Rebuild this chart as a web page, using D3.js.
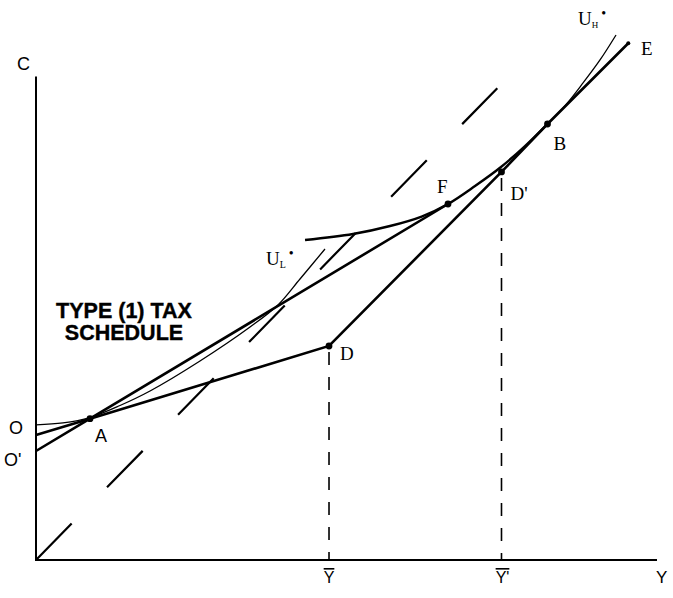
<!DOCTYPE html>
<html><head><meta charset="utf-8">
<script src="https://cdn.jsdelivr.net/npm/d3@7"></script>
<style>
html,body{margin:0;padding:0;background:#fff;}
svg{display:block;}
.sans{font-family:"Liberation Sans",Arial,sans-serif;}
.serif{font-family:"Liberation Serif","Times New Roman",serif;}
</style></head>
<body>
<svg id="chart" width="673" height="598"></svg>
<script>
// ---- data (Y = income on horizontal axis, C = consumption on vertical axis) ----
const axisMax = [100, 78];                       // Y max, C max
const scheduleOD_E = [[0,20.16],[8.71,22.8],[47.26,34.52],[75.08,62.6],[82.5,70.32],[95.53,83.34]]; // O-A-D-D'-B-E
const lineOprimeF = [[0,17.58],[8.71,22.8],[66.45,57.42]];   // O'-A-F
const line45 = [[0,0],[74.4,76.1]];
const uLstar = [[0,21.8],[4.35,22.1],[8.71,22.98],[13.55,24.92],[18.39,27.26],[26.45,32.1],[34.52,37.58],[39.03,41.13],[42.58,45.32],[46.61,50.16]];
const uHstarThick = [[43.39,51.61],[51.13,52.58],[57.1,53.87],[62.2,55.4],[66.45,57.42],[70.81,60.32],[75.0,63.39],[78.87,66.77],[82.5,70.32]];
const uHstarThin = [[82.5,70.32],[85.48,73.45],[88.23,76.94],[90.97,80.65],[93.55,84.68]];
const pointNames = ["A","D","D'","F","B"];
const pointX = [8.71,47.26,75.08,66.45,82.5];
const pointY = [22.8,34.52,62.6,57.42,70.32];
const xTickLabels = ["Y","Y'"];
const xTickValues = [47.26,75.08];

const svg = d3.select("#chart");
const x = d3.scaleLinear().domain([0, axisMax[0]]).range([36, 656]);
const y = d3.scaleLinear().domain([0, axisMax[1]]).range([560, 76.4]);
const line = d3.line().x(d=>x(d[0])).y(d=>y(d[1]));
const curve = d3.line().x(d=>x(d[0])).y(d=>y(d[1])).curve(d3.curveCatmullRom.alpha(0.5));

// axes
svg.append("line").attr("x1",x(0)).attr("x2",x(0)).attr("y1",y(0)+1).attr("y2",y(axisMax[1]))
  .attr("stroke","#000").attr("stroke-width",2);
svg.append("line").attr("x1",x(0)-1).attr("x2",x(axisMax[0])+1).attr("y1",y(0)).attr("y2",y(0))
  .attr("stroke","#000").attr("stroke-width",2);

// 45 degree dashed line
svg.append("path").attr("d",line(line45)).attr("fill","none").attr("stroke","#000")
  .attr("stroke-width",2.2).attr("stroke-dasharray","51,50.6");

// vertical dashed drop lines
xTickValues.forEach((v,i)=>{
  const top = i===0 ? pointY[1] : pointY[2];
  svg.append("line").attr("x1",x(v)).attr("x2",x(v)).attr("y1",y(top)+6).attr("y2",y(0))
    .attr("stroke","#000").attr("stroke-width",1.6).attr("stroke-dasharray","13,12");
});

// tax schedule lines
svg.append("path").attr("d",line(scheduleOD_E)).attr("fill","none").attr("stroke","#000").attr("stroke-width",2.6);
svg.append("path").attr("d",line(lineOprimeF)).attr("fill","none").attr("stroke","#000").attr("stroke-width",2.6);

// indifference curves
svg.append("path").attr("d",curve(uLstar)).attr("fill","none").attr("stroke","#000").attr("stroke-width",1.3);
svg.append("path").attr("d",curve(uHstarThick)).attr("fill","none").attr("stroke","#000").attr("stroke-width",2.4);
svg.append("path").attr("d",curve(uHstarThin)).attr("fill","none").attr("stroke","#000").attr("stroke-width",1.3);

// points
pointNames.forEach((n,i)=>{
  svg.append("circle").attr("cx",x(pointX[i])).attr("cy",y(pointY[i])).attr("r",3.4).attr("fill","#000");
});
const last = scheduleOD_E[scheduleOD_E.length-1];
svg.append("circle").attr("cx",x(last[0])).attr("cy",y(last[1])).attr("r",2).attr("fill","#000");

// labels
function lab(t,px,py,cls,size,anchor){
  return svg.append("text").attr("x",px).attr("y",py).attr("class",cls).attr("font-size",size)
    .attr("text-anchor",anchor||"start").text(t);
}
lab("C",17,70,"sans",18);
lab("O",9,434,"sans",18);
lab("O'",4,466,"sans",18);
lab("A",95,442,"sans",18);
lab("D",x(pointX[1])+11,y(pointY[1])+14,"serif",19);
lab("D'",x(pointX[2])+9,y(pointY[2])+28,"serif",19);
lab("F",x(pointX[3])-11,y(pointY[3])-11,"serif",19);
lab("B",x(pointX[4])+6,y(pointY[4])+26,"serif",19);
lab("E",641,55,"serif",19);
lab("Y",656,583,"sans",17);

// tick labels with overbar
xTickLabels.forEach((t,i)=>{
  svg.append("text").attr("x",x(xTickValues[i]) + (i===0?0:1)).attr("y",583)
    .attr("class","sans").attr("font-size",16).attr("text-anchor","middle")
    .style("text-decoration","overline").text(t);
});

// U_H* and U_L* labels
const uh = svg.append("text").attr("x",578).attr("y",25).attr("class","serif").attr("font-size",19);
uh.append("tspan").text("U");
uh.append("tspan").attr("font-size",9).attr("dy",3).text("H");
uh.append("tspan").attr("font-size",14).attr("dy",-10).attr("dx",3).text("•");
const ul = svg.append("text").attr("x",266).attr("y",265).attr("class","serif").attr("font-size",19);
ul.append("tspan").text("U");
ul.append("tspan").attr("font-size",10).attr("dy",3).text("L");
ul.append("tspan").attr("font-size",14).attr("dy",-10).attr("dx",3).text("•");

// type (1) tax schedule label
const t1 = svg.append("text").attr("class","sans").attr("font-weight","bold").attr("font-size",21.5)
  .attr("text-anchor","middle").attr("stroke","#000").attr("stroke-width",0.4);
t1.append("tspan").attr("x",124).attr("y",318).text("TYPE (1) TAX");
t1.append("tspan").attr("x",124).attr("y",340).text("SCHEDULE");
</script>
</body></html>
